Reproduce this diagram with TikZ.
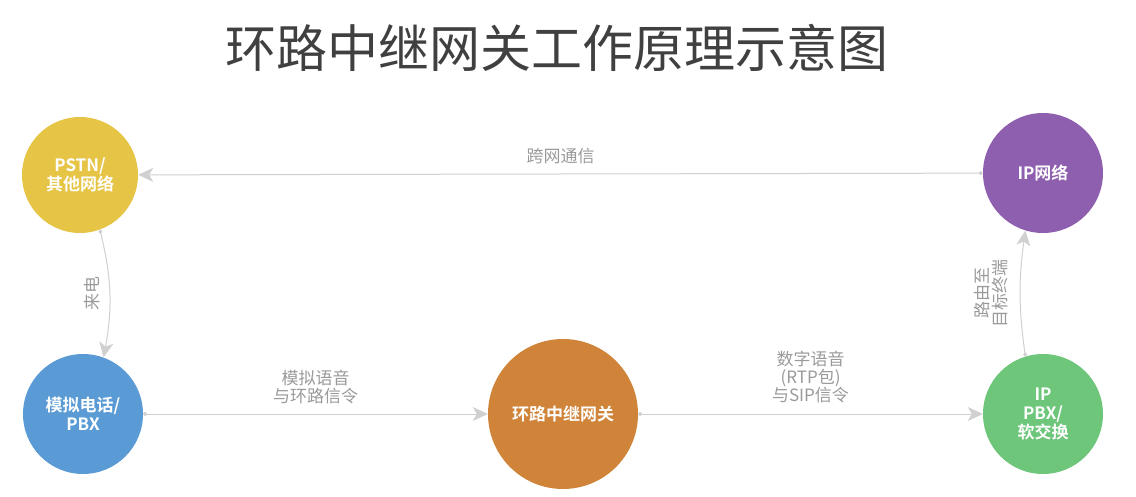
\documentclass[tikz,border=0pt]{standalone}
\usepackage{fontspec}
\setmainfont{Noto Sans CJK SC}[BoldFont={Noto Sans CJK SC Bold}]
\usetikzlibrary{arrows.meta}

\definecolor{titlegray}{HTML}{404040}
\definecolor{linegray}{HTML}{D0D0D0}
\definecolor{labelgray}{HTML}{9A9A9A}
\definecolor{pstnyellow}{HTML}{E6C446}
\definecolor{ipviolet}{HTML}{8E5FAE}
\definecolor{phoneblue}{HTML}{5B9BD5}
\definecolor{gwyorange}{HTML}{D0843A}
\definecolor{pbxgreen}{HTML}{6DC67A}

\begin{document}
\begin{tikzpicture}[x=1pt,y=1pt]
			\useasboundingbox (0,0) rectangle (1136,496);
			\node[text=titlegray,font=\fontsize{51}{56}\selectfont] (title) at (557,448) {环路中继网关工作原理示意图};
			
			\begin{scope}[every node/.style={circle,fill,text=white,inner sep=0pt,minimum size=120pt,align=center,font=\bfseries\fontsize{17}{19}\selectfont}]
				\node[fill=pstnyellow,minimum size=116pt] (PSTN) at (80,321) {PSTN/\\其他网络};
				\node[fill=ipviolet] (IPNet) at (1043,323) {IP网络};
				\node[fill=phoneblue] (Phone) at (83,82) {模拟电话/\\PBX};
				\node[fill=gwyorange,minimum size=150pt] (GW) at (563,82) {环路中继网关};
				\node[fill=pbxgreen] (PBX) at (1043,82) {IP\\PBX/\\软交换};
			\end{scope}
			
			\begin{scope}[every edge/.style={draw=linegray,line width=1pt,{Circle[length=4pt]}-{Stealth[length=15pt,width=14pt,inset=4pt]}},
				every node/.style={text=labelgray,align=center,font=\fontsize{17}{18}\selectfont}]
				\path (IPNet) edge node[yshift=18pt] {跨网通信} (PSTN);
				\path (PSTN.-70) edge[bend left=12] node[xshift=-18pt,rotate=90] {来电} (Phone.70);
				\path (Phone) edge node[yshift=27pt] {模拟语音\\与环路信令} (GW);
				\path (GW) edge node[yshift=37pt] {数字语音\\(RTP包)\\与SIP信令} (PBX);
				\path (PBX.107) edge[bend left=8] node[xshift=-29pt,rotate=90] {路由至\\目标终端} (IPNet.-107);
			\end{scope}
		\end{tikzpicture}
\end{document}
